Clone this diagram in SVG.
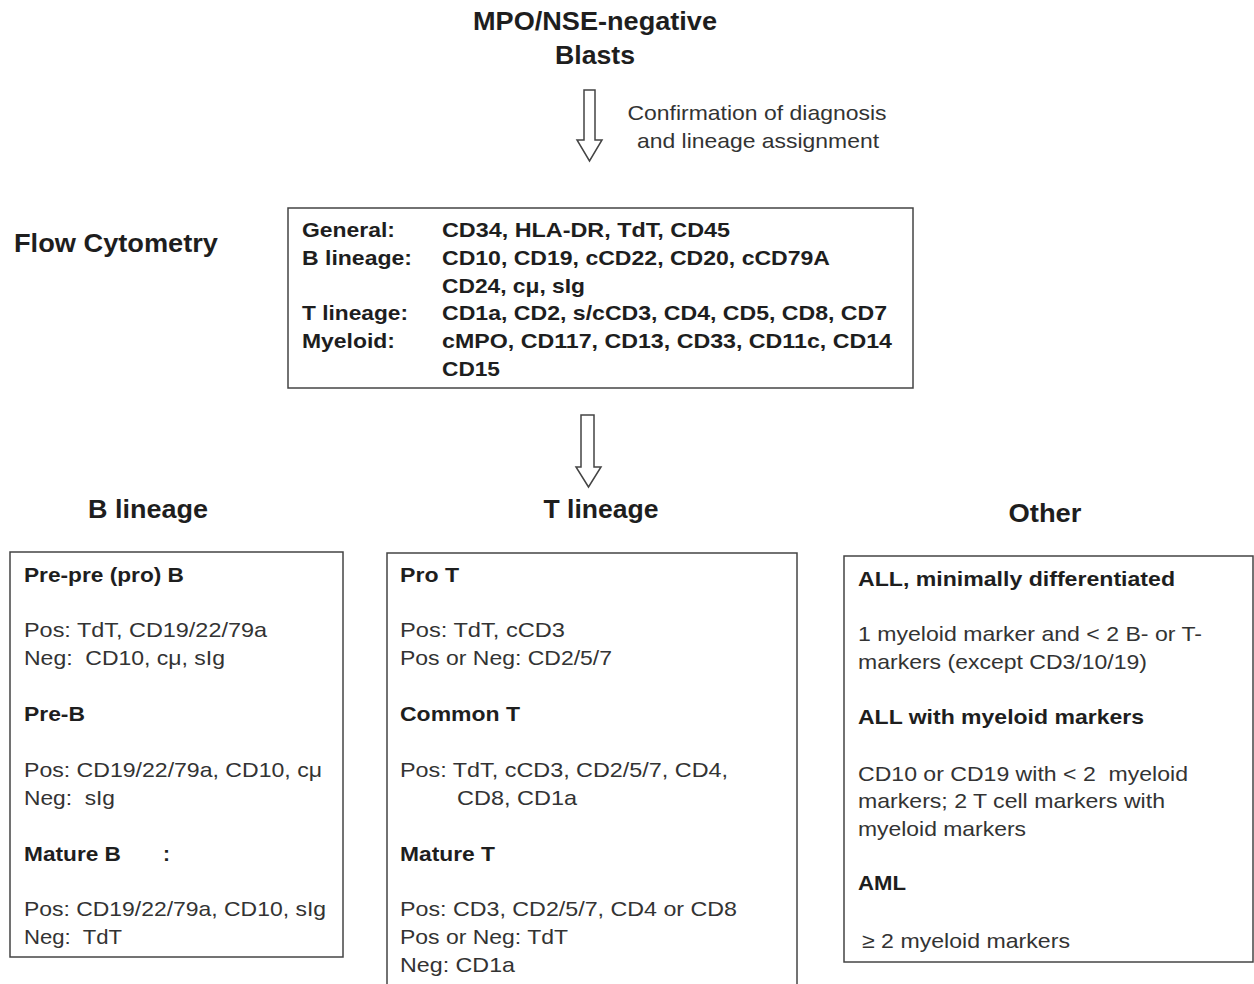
<svg xmlns="http://www.w3.org/2000/svg" width="1254" height="984" viewBox="0 0 1254 984">
<style>
text{font-family:"Liberation Sans",Arial,sans-serif;fill:#1e1e1e}
.t{font-size:25px;font-weight:bold;text-anchor:middle}
.h{font-size:25px;font-weight:bold;text-anchor:middle}
.b{font-size:21px;font-weight:bold}
.r{font-size:21px;fill:#333}
.box{fill:#fff;stroke:#444;stroke-width:1.5}
.arr{fill:#fff;stroke:#444;stroke-width:1.5;stroke-linejoin:miter}
</style>
<rect width="1254" height="984" fill="#fff"/>
<g id="title">
<text class="t" x="595" y="30" textLength="244" lengthAdjust="spacingAndGlyphs">MPO/NSE-negative</text>
<text class="t" x="595" y="64" textLength="80" lengthAdjust="spacingAndGlyphs">Blasts</text>
</g>
<g id="connectors">
<path class="arr" d="M584,90 H595 V140 H602 L589.5,161 L577,140 H584 Z"/>
<text class="r" x="757" y="120" text-anchor="middle" textLength="259" lengthAdjust="spacingAndGlyphs">Confirmation of diagnosis</text>
<text class="r" x="758" y="148" text-anchor="middle" textLength="242" lengthAdjust="spacingAndGlyphs">and lineage assignment</text>
<path class="arr" d="M581,415 H594 V467 H601 L588.5,487 L576,467 H581 Z"/>
</g>
<g id="flow-label">
<text class="b" x="14" y="252" style="font-size:25px" textLength="204" lengthAdjust="spacingAndGlyphs">Flow Cytometry</text>
</g>
<g id="flow-box">
<rect class="box" x="288" y="208" width="625" height="180"/>
<text class="b" x="302" y="237" textLength="93" lengthAdjust="spacingAndGlyphs">General:</text>
<text class="b" x="442" y="237" textLength="288" lengthAdjust="spacingAndGlyphs">CD34, HLA-DR, TdT, CD45</text>
<text class="b" x="302" y="265" textLength="110" lengthAdjust="spacingAndGlyphs">B lineage:</text>
<text class="b" x="442" y="265" textLength="388" lengthAdjust="spacingAndGlyphs">CD10, CD19, cCD22, CD20, cCD79A</text>
<text class="b" x="442" y="293" textLength="143" lengthAdjust="spacingAndGlyphs">CD24, cμ, sIg</text>
<text class="b" x="302" y="320" textLength="106" lengthAdjust="spacingAndGlyphs">T lineage:</text>
<text class="b" x="442" y="320" textLength="445" lengthAdjust="spacingAndGlyphs">CD1a, CD2, s/cCD3, CD4, CD5, CD8, CD7</text>
<text class="b" x="302" y="348" textLength="93" lengthAdjust="spacingAndGlyphs">Myeloid:</text>
<text class="b" x="442" y="348" textLength="450" lengthAdjust="spacingAndGlyphs">cMPO, CD117, CD13, CD33, CD11c, CD14</text>
<text class="b" x="442" y="376" textLength="58" lengthAdjust="spacingAndGlyphs">CD15</text>
</g>
<g id="b-lineage">
<text class="h" x="148" y="518" textLength="120" lengthAdjust="spacingAndGlyphs">B lineage</text>
<rect class="box" x="10" y="552" width="333" height="405"/>
<text class="b" x="24" y="582" textLength="160" lengthAdjust="spacingAndGlyphs">Pre-pre (pro) B</text>
<text class="r" x="24" y="637" textLength="243" lengthAdjust="spacingAndGlyphs">Pos: TdT, CD19/22/79a</text>
<text class="r" x="24" y="665" textLength="201" lengthAdjust="spacingAndGlyphs">Neg:&#160; CD10, cμ, sIg</text>
<text class="b" x="24" y="721" textLength="61" lengthAdjust="spacingAndGlyphs">Pre-B</text>
<text class="r" x="24" y="777" textLength="298" lengthAdjust="spacingAndGlyphs">Pos: CD19/22/79a, CD10, cμ</text>
<text class="r" x="24" y="805" textLength="91" lengthAdjust="spacingAndGlyphs">Neg:&#160; sIg</text>
<text class="b" x="24" y="861" textLength="97" lengthAdjust="spacingAndGlyphs">Mature B</text>
<text class="b" x="163" y="861">:</text>
<text class="r" x="24" y="916" textLength="302" lengthAdjust="spacingAndGlyphs">Pos: CD19/22/79a, CD10, sIg</text>
<text class="r" x="24" y="944" textLength="98" lengthAdjust="spacingAndGlyphs">Neg:&#160; TdT</text>
</g>
<g id="t-lineage">
<text class="h" x="601" y="518" textLength="115" lengthAdjust="spacingAndGlyphs">T lineage</text>
<rect class="box" x="387" y="553" width="410" height="440"/>
<text class="b" x="400" y="582" textLength="59" lengthAdjust="spacingAndGlyphs">Pro T</text>
<text class="r" x="400" y="637" textLength="165" lengthAdjust="spacingAndGlyphs">Pos: TdT, cCD3</text>
<text class="r" x="400" y="665" textLength="212" lengthAdjust="spacingAndGlyphs">Pos or Neg: CD2/5/7</text>
<text class="b" x="400" y="721" textLength="120" lengthAdjust="spacingAndGlyphs">Common T</text>
<text class="r" x="400" y="777" textLength="328" lengthAdjust="spacingAndGlyphs">Pos: TdT, cCD3, CD2/5/7, CD4,</text>
<text class="r" x="457" y="805" textLength="120" lengthAdjust="spacingAndGlyphs">CD8, CD1a</text>
<text class="b" x="400" y="861" textLength="95" lengthAdjust="spacingAndGlyphs">Mature T</text>
<text class="r" x="400" y="916" textLength="337" lengthAdjust="spacingAndGlyphs">Pos: CD3, CD2/5/7, CD4 or CD8</text>
<text class="r" x="400" y="944" textLength="168" lengthAdjust="spacingAndGlyphs">Pos or Neg: TdT</text>
<text class="r" x="400" y="972" textLength="115" lengthAdjust="spacingAndGlyphs">Neg: CD1a</text>
</g>
<g id="other">
<text class="h" x="1045" y="522" textLength="73" lengthAdjust="spacingAndGlyphs">Other</text>
<rect class="box" x="844" y="556" width="409" height="406"/>
<text class="b" x="858" y="586" textLength="317" lengthAdjust="spacingAndGlyphs">ALL, minimally differentiated</text>
<text class="r" x="858" y="641" textLength="344" lengthAdjust="spacingAndGlyphs">1 myeloid marker and &lt; 2 B- or T-</text>
<text class="r" x="858" y="669" textLength="289" lengthAdjust="spacingAndGlyphs">markers (except CD3/10/19)</text>
<text class="b" x="858" y="724" textLength="286" lengthAdjust="spacingAndGlyphs">ALL with myeloid markers</text>
<text class="r" x="858" y="781" textLength="330" lengthAdjust="spacingAndGlyphs">CD10 or CD19 with &lt; 2&#160; myeloid</text>
<text class="r" x="858" y="808" textLength="307" lengthAdjust="spacingAndGlyphs">markers; 2 T cell markers with</text>
<text class="r" x="858" y="836" textLength="168" lengthAdjust="spacingAndGlyphs">myeloid markers</text>
<text class="b" x="858" y="890" textLength="48" lengthAdjust="spacingAndGlyphs">AML</text>
<text class="r" x="862" y="948" textLength="208" lengthAdjust="spacingAndGlyphs">≥ 2 myeloid markers</text>
</g>
</svg>
